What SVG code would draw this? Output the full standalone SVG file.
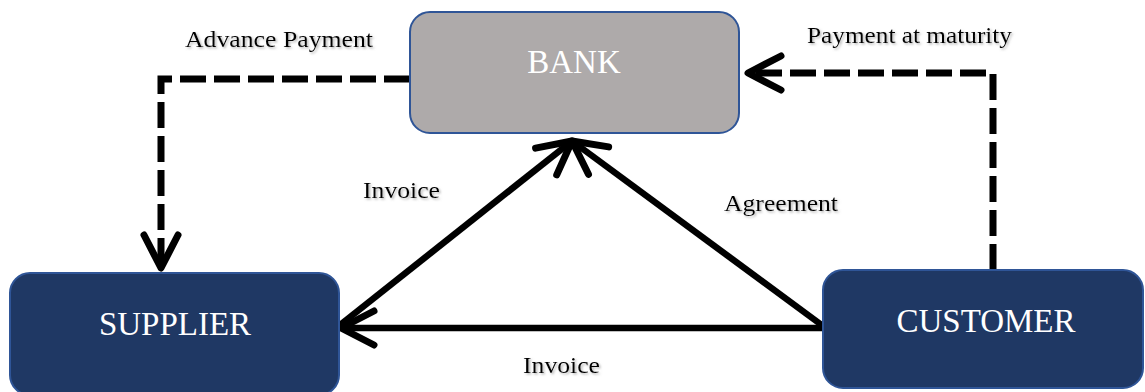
<svg xmlns="http://www.w3.org/2000/svg" width="1145" height="392" viewBox="0 0 1145 392">
  <style>
    .box { stroke: #2f5597; stroke-width: 2; }
    .bank { fill: #aeaaaa; }
    .party { fill: #1f3864; }
    .node-label { font-family: "Liberation Serif", "Times New Roman", serif; font-size: 33px; fill: #ffffff; text-anchor: middle; }
    .edge-label { font-family: "Liberation Serif", "Times New Roman", serif; font-size: 23px; fill: #000000; filter: url(#soft-shadow); }
    .flow { fill: none; stroke: #000000; stroke-width: 6.5; stroke-linecap: butt; }
    .funds { fill: none; stroke: #000000; stroke-width: 7; stroke-dasharray: 26 8; stroke-linejoin: miter; }
  </style>
  <defs>
    <filter id="soft-shadow" x="-10%" y="-30%" width="120%" height="160%">
      <feDropShadow dx="1.5" dy="1.5" stdDeviation="1" flood-color="#808080" flood-opacity="0.6"/>
    </filter>
    <marker id="chevron" markerUnits="userSpaceOnUse" viewBox="-40 -22 44 44" markerWidth="44" markerHeight="44" refX="0" refY="0" orient="auto" overflow="visible">
      <path d="M -33 -17 L 0 0 L -33 17" fill="none" stroke="#000000" stroke-width="7" stroke-dasharray="none" stroke-linecap="round" stroke-linejoin="round"/>
    </marker>
  </defs>

  <!-- connectors -->
  <g id="connectors">
    <!-- advance payment: bank to supplier -->
    <path id="advance-payment" class="funds" d="M 410 79 H 161 V 268" marker-end="url(#chevron)"/>
    <!-- payment at maturity: customer to bank -->
    <path id="payment-at-maturity" class="funds" d="M 993 270 V 73 H 748" marker-end="url(#chevron)"/>
    <!-- invoice: supplier to bank -->
    <path id="invoice-to-bank" class="flow" d="M 340 325 L 572 141" marker-end="url(#chevron)"/>
    <!-- agreement: customer to bank -->
    <path id="agreement" class="flow" d="M 823 326 L 572 141" marker-end="url(#chevron)"/>
    <!-- invoice: customer to supplier -->
    <path id="invoice-to-supplier" class="flow" d="M 823 328 L 341 328" marker-end="url(#chevron)"/>

    <text class="edge-label" x="185" y="47" textLength="188" lengthAdjust="spacingAndGlyphs">Advance Payment</text>
    <text class="edge-label" x="807" y="43" textLength="205" lengthAdjust="spacingAndGlyphs">Payment at maturity</text>
    <text class="edge-label" x="363" y="198" textLength="77" lengthAdjust="spacingAndGlyphs">Invoice</text>
    <text class="edge-label" x="724" y="211" textLength="114" lengthAdjust="spacingAndGlyphs">Agreement</text>
    <text class="edge-label" x="523" y="373" textLength="77" lengthAdjust="spacingAndGlyphs">Invoice</text>
  </g>

  <g id="bank">
    <rect class="box bank" x="410" y="12" width="329" height="121" rx="20" ry="20"/>
    <text class="node-label" x="574" y="73">BANK</text>
  </g>

  <g id="supplier">
    <rect class="box party" x="10" y="273" width="329" height="122" rx="20" ry="20"/>
    <text class="node-label" x="175" y="335">SUPPLIER</text>
  </g>

  <g id="customer">
    <rect class="box party" x="823" y="270" width="320" height="118" rx="20" ry="20"/>
    <text class="node-label" x="986" y="332">CUSTOMER</text>
  </g>
</svg>
